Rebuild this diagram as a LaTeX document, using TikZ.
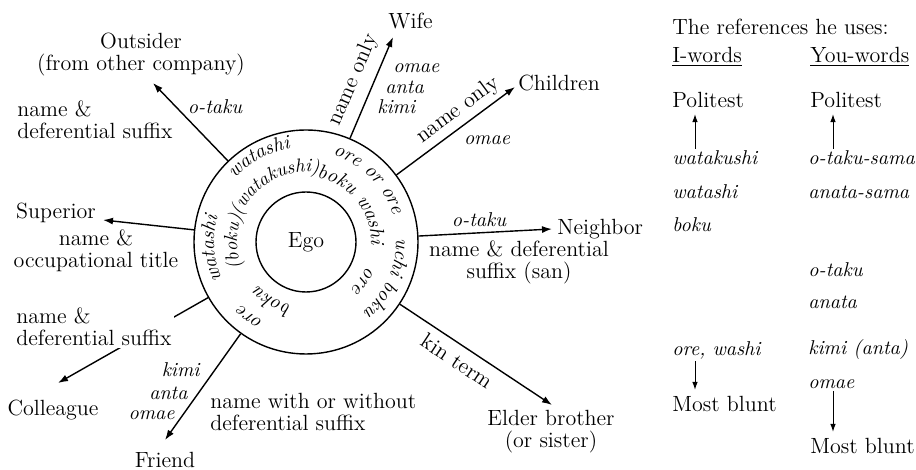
\documentclass[tikz,border=0pt]{standalone}
\usetikzlibrary{arrows.meta,decorations.text}
\newcommand\jpw{\fontsize{10}{11}\selectfont\itshape}
\newcommand\jpws{\fontsize{9.5}{11}\selectfont\itshape}
\begin{document}
\begin{tikzpicture}[x=0.5pt,y=0.5pt,
  lab/.style={font=\fontsize{11}{11}\selectfont,inner sep=1pt},
  jp/.style={font=\jpw,inner sep=1pt},
  band/.style={draw,circle,line width=0.7pt,inner sep=0pt},
  spoke/.style={line width=0.7pt,-{Latex[length=5pt,width=3.5pt]}},
  larrow/.style={line width=0.5pt,-{Latex[length=4pt,width=2.8pt]},shorten >=2pt},
  ringtext/.style={decorate,decoration={text along path,text align=center,text={|\jpw|#1}}},
  ringsmall/.style={decorate,decoration={text along path,text align=center,text={|\jpws|#1}}}]
\useasboundingbox (0,0) rectangle (916,470);

\node[band,minimum size=112pt] (ring) at (306,228) {};
\node[band,minimum size=50pt,lab] (ego) at (306,228) {Ego};

\coordinate (tOut)    at (153,387);
\coordinate (tWife)   at (393,433);
\coordinate (tChild)  at (515,383);
\coordinate (tNeigh)  at (552,241);
\coordinate (tElder)  at (552,65);
\coordinate (tFriend) at (165,30);
\coordinate (tColl)   at (58,87);
\coordinate (tSup)    at (103,250);

\foreach \t in {tOut,tWife,tChild,tNeigh,tElder,tFriend,tColl,tSup}
  \draw[spoke] (ring) -- (\t);

\begin{scope}[shift={(ring.center)}]
\path[ringtext=watashi]     (242:92) arc[start angle=242,end angle=126,radius=92];
\path[ringsmall=(boku)]     (238:69) arc[start angle=238,end angle=122,radius=69];
\path[ringtext=watashi]     (177:95) arc[start angle=177,end angle=61,radius=95];
\path[ringsmall=(watakushi)](182:70) arc[start angle=182,end angle=56,radius=70];
\path[ringtext=ore or ore]  (103:91) arc[start angle=103,end angle=-13,radius=91];
\path[ringtext=boku washi]  (103:65) arc[start angle=103,end angle=-25,radius=65];
\path[ringtext=uchi boku]   (34:90)  arc[start angle=34,end angle=-82,radius=90];
\path[ringtext=ore]         (24:65)  arc[start angle=24,end angle=-92,radius=65];
\path[ringtext=ore]         (291:90) arc[start angle=291,end angle=175,radius=90];
\path[ringtext=boku]        (298:65) arc[start angle=298,end angle=182,radius=65];
\end{scope}

\node[lab,align=center] (outs) at (141,415) {Outsider\\(from other company)};
\node[jp] (outj) at (215,363) {o-taku};
\node[lab,align=left,anchor=west] (outt) at (15,350) {name \&\\deferential suffix};

\node[lab,anchor=west] (wife) at (386,449) {Wife};
\node[lab,rotate=67] (wifet) at (353,390) {name only};
\node[jp,anchor=west] (wife1) at (391,402) {omae};
\node[jp,anchor=west] (wife2) at (383,383) {anta};
\node[jp,anchor=west] (wife3) at (375,363) {kimi};

\node[lab,anchor=west] (child) at (516,387) {Children};
\node[lab,rotate=36.6] (childt) at (458,360) {name only};
\node[jp] (childj) at (487,330) {omae};

\node[lab,anchor=west] (neigh) at (555,241) {Neighbor};
\node[jp] (neighj) at (479,250) {o-taku};
\node[lab,align=center] (neight) at (519,208) {name \& deferential\\suffix (san)};

\node[lab,rotate=-33.5] (eldert) at (457,109) {kin term};
\node[lab,align=center] (elder) at (551,38) {Elder brother\\(or sister)};

\node[lab] (friend) at (165,10) {Friend};
\node[jp,anchor=east] (friend1) at (202,100) {kimi};
\node[jp,anchor=east] (friend2) at (190,77) {anta};
\node[jp,anchor=east] (friend3) at (177,55) {omae};
\node[lab,align=left,anchor=west] (friendt) at (208,58) {name with or without\\deferential suffix};

\node[lab] (coll) at (53,60) {Colleague};
\node[lab,align=left,anchor=west,fill=white] (collt) at (14,143) {name \&\\deferential suffix};

\node[lab] (sup) at (56,257) {Superior};
\node[lab,align=center] (supt) at (96,219) {name \&\\occupational title};

\coordinate (ia) at (695,0);
\coordinate (ya) at (833,0);
\node[lab,anchor=west] (refs)   at (670,443) {The references he uses:};
\node[lab,anchor=west] (iw)     at (670,413) {\underline{I-words}};
\node[lab,anchor=west] (yw)     at (808,413) {\underline{You-words}};
\node[lab,anchor=west] (ipol)   at (670,370) {Politest};
\node[lab,anchor=west] (ypol)   at (808,370) {Politest};
\node[jp,anchor=west]  (iwk)    at (670,312) {watakushi};
\node[jp,anchor=west]  (yots)   at (806,312) {o-taku-sama};
\node[jp,anchor=west]  (iws)    at (670,278) {watashi};
\node[jp,anchor=west]  (yans)   at (806,278) {anata-sama};
\node[jp,anchor=west]  (ibk)    at (670,245) {boku};
\node[jp,anchor=west]  (yot)    at (806,200) {o-taku};
\node[jp,anchor=west]  (yan)    at (806,168) {anata};
\node[jp,anchor=west]  (iore)   at (670,120) {ore, washi};
\node[jp,anchor=west]  (ykimi)  at (806,120) {kimi (anta)};
\node[jp,anchor=west]  (yom)    at (806,86)  {omae};
\node[lab,anchor=west] (iblunt) at (670,66)  {Most blunt};
\node[lab,anchor=west] (yblunt) at (808,24)  {Most blunt};
\draw[larrow] (iwk.north -| ia) -- (ipol.south -| ia);
\draw[larrow] (yots.north -| ya) -- (ypol.south -| ya);
\draw[larrow] (iore.south -| ia) -- (iblunt.north -| ia);
\draw[larrow] (yom.south -| ya) -- (yblunt.north -| ya);
\end{tikzpicture}
\end{document}
